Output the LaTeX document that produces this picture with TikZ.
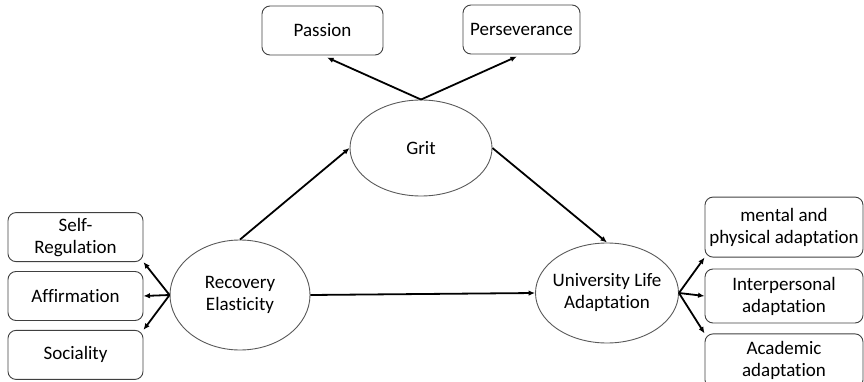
\documentclass[tikz,border=0pt]{standalone}
\usepackage{fontspec}
\setmainfont{Carlito}[Ligatures=NoCommon]
\usetikzlibrary{arrows.meta,
                positioning,
                shapes.geometric}
\tikzset{
        base/.style={draw=black!75, line width=0.9pt, align=center,
                     font=\fontsize{19}{22}\selectfont},
        box/.style={base, rectangle, rounded corners=8pt, minimum height=49pt},
        latent/.style={base, ellipse, draw=black!65, inner sep=0pt},
        myarrow/.style={-{Latex[length=6.5pt,width=5.5pt]}, line width=1.8pt},
}
% keep wide text from growing the ellipse
\newcommand{\narrowtext}[1]{\makebox[80pt]{\begin{tabular}{@{}c@{}}#1\end{tabular}}}

\begin{document}
\begin{tikzpicture}[x=1pt,y=-1pt]
    \clip (0,0) rectangle (864,382);

    % latent variables
    \node[latent, minimum width=142pt, minimum height=96pt] (grit) at (421,148) {Grit};
    \node[latent, minimum width=140pt, minimum height=110pt] (recov) at (240,295) {\narrowtext{Recovery\\Elasticity}};
    \node[latent, minimum width=143pt, minimum height=100pt] (univ) at (607,293) {\narrowtext{University Life\\Adaptation}};

    % grit
    \node[box, minimum width=121pt] (passion) at (322.5,30.5) {Passion};
    \node[box, minimum width=117pt] (persev) at (521.5,29.5) {Perseverance};

    % recovery elasticity
    \node[box, minimum width=135pt] (affirm) at (75.5,296) {Affirmation};
    \node[box, minimum width=135pt, above=9pt of affirm] (selfreg) {Self-\\Regulation};
    \node[box, minimum width=135pt, below=9pt of affirm] (social) {Sociality};

    % university life adaptation
    \node[box, minimum width=158pt, minimum height=54pt] (inter) at (784,296) {Interpersonal\\adaptation};
    \node[box, minimum width=158pt, minimum height=60pt, above=11pt of inter] (mental) {mental and\\physical adaptation};
    \node[box, minimum width=158pt, minimum height=54pt, below=10pt of inter] (acad) {Academic\\adaptation};

    \draw[myarrow, shorten >=5pt] (grit.north) -- (passion.south);
    \draw[myarrow, shorten >=5pt] (grit.north) -- (persev.south);

    \draw[myarrow] (recov.north) -- (grit.west);
    \draw[myarrow] (grit.east) -- (univ.north);
    \draw[myarrow] (recov.east) -- (univ.west);

    \draw[myarrow] (recov.west) -- (selfreg.south east);
    \draw[myarrow] (recov.west) -- (affirm.east);
    \draw[myarrow] (recov.west) -- (social.north east);

    \draw[myarrow] (univ.east) -- (mental.south west);
    \draw[myarrow] (univ.east) -- (inter.west);
    \draw[myarrow] (univ.east) -- (acad.north west);
\end{tikzpicture}
\end{document}
